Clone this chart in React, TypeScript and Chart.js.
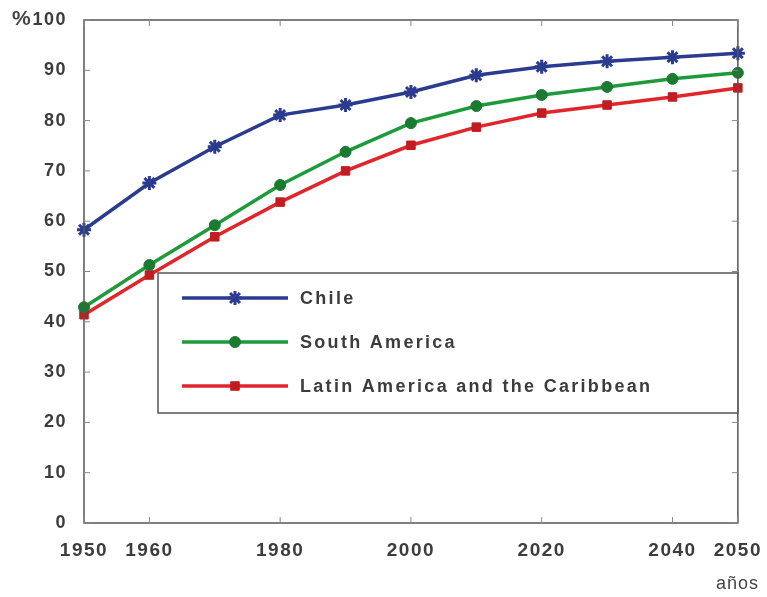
import React, { useEffect, useRef } from "react";
import { Chart, registerables } from "chart.js";

Chart.register(...registerables);

const years = [1950, 1960, 1970, 1980, 1990, 2000, 2010, 2020, 2030, 2040, 2050];
const chile = [58.3, 67.6, 74.8, 81.1, 83.1, 85.7, 89.0, 90.7, 91.8, 92.6, 93.4];
const southAmerica = [42.9, 51.3, 59.2, 67.2, 73.8, 79.5, 82.9, 85.1, 86.7, 88.3, 89.5];
const latinAmerica = [41.4, 49.3, 56.9, 63.8, 70.0, 75.1, 78.7, 81.5, 83.1, 84.7, 86.5];
const xTickLabels = [1950, 1960, 1980, 2000, 2020, 2040, 2050];
const seriesNames = ["Chile", "South America", "Latin America and the Caribbean"];
const yUnit = "%";
const xUnit = "años";

const FONT = "'Liberation Sans', Arial, sans-serif";

function drawMarker(ctx: CanvasRenderingContext2D, style: string, x: number, y: number, r: number, fill: string, stroke: string, lw: number) {
  ctx.save();
  ctx.fillStyle = fill;
  ctx.strokeStyle = stroke;
  ctx.lineWidth = lw;
  ctx.beginPath();
  if (style === "circle") {
    ctx.arc(x, y, r, 0, Math.PI * 2);
    ctx.fill();
    ctx.stroke();
  } else if (style === "rect") {
    const s = r * Math.SQRT1_2;
    ctx.rect(x - s, y - s, 2 * s, 2 * s);
    ctx.fill();
    ctx.stroke();
  } else {
    for (let k = 0; k < 4; k++) {
      const ang = (k * Math.PI) / 4;
      ctx.moveTo(x - Math.cos(ang) * r, y - Math.sin(ang) * r);
      ctx.lineTo(x + Math.cos(ang) * r, y + Math.sin(ang) * r);
    }
    ctx.stroke();
  }
  ctx.restore();
}

export default function App() {
  const ref = useRef<HTMLCanvasElement | null>(null);

  useEffect(() => {
    document.body.style.margin = "0";
    const canvas = ref.current;
    if (!canvas) return;

    const spacingPlugin = {
      id: "spacing",
      beforeDraw(chart: any) {
        (chart.ctx as any).letterSpacing = "1.5px";
      },
    };

    const framePlugin = {
      id: "frame",
      afterDatasetsDraw(chart: any) {
        const { ctx, chartArea: a, scales } = chart;
        const xs = scales.x;
        const ys = scales.y;
        ctx.save();
        ctx.strokeStyle = "#555";
        ctx.lineWidth = 1.5;
        ctx.strokeRect(a.left, a.top, a.right - a.left, a.bottom - a.top);
        ctx.lineWidth = 1;
        ctx.strokeStyle = "#888";
        xTickLabels.forEach((v) => {
          const px = xs.getPixelForValue(v);
          ctx.beginPath();
          ctx.moveTo(px, a.bottom);
          ctx.lineTo(px, a.bottom - 6);
          ctx.moveTo(px, a.top);
          ctx.lineTo(px, a.top + 6);
          ctx.stroke();
        });
        for (let v = 0; v <= 100; v += 10) {
          const py = ys.getPixelForValue(v);
          ctx.beginPath();
          ctx.moveTo(a.left, py);
          ctx.lineTo(a.left + 6, py);
          ctx.moveTo(a.right, py);
          ctx.lineTo(a.right - 6, py);
          ctx.stroke();
        }
        // legend box
        const lx = 158;
        const ly = 273;
        const lw = a.right - lx;
        const lh = 140;
        ctx.fillStyle = "#ffffff";
        ctx.fillRect(lx, ly, lw, lh);
        ctx.strokeStyle = "#555";
        ctx.lineWidth = 1.5;
        ctx.strokeRect(lx, ly, lw, lh);
        ctx.font = `bold 18px ${FONT}`;
        ctx.textBaseline = "middle";
        ctx.textAlign = "left";
        ctx.letterSpacing = "2.3px";
        chart.data.datasets.forEach((ds: any, i: number) => {
          const y = ly + 25 + i * 44;
          ctx.strokeStyle = ds.borderColor;
          ctx.lineWidth = 3.5;
          ctx.beginPath();
          ctx.moveTo(182, y);
          ctx.lineTo(288, y);
          ctx.stroke();
          drawMarker(ctx, ds.pointStyle, 235, y, ds.pointRadius, ds.backgroundColor, ds.pointBorderColor, ds.pointBorderWidth);
          ctx.fillStyle = "#3c3c3c";
          ctx.fillText(seriesNames[i], 300, y + 1);
        });
        ctx.fillStyle = "#444";
        ctx.font = `bold 21px ${FONT}`;
        ctx.letterSpacing = "0px";
        ctx.fillText(yUnit, 12, 19);
        ctx.font = `18px ${FONT}`;
        ctx.letterSpacing = "1px";
        ctx.fillText(xUnit, 716, 584);
        ctx.restore();
      },
    };

    const chart = new Chart(canvas, {
      type: "line",
      data: {
        datasets: [
          {
            label: seriesNames[0],
            data: years.map((x, i) => ({ x, y: chile[i] })),
            borderColor: "#2b3b8f",
            backgroundColor: "#2b3b8f",
            pointBorderColor: "#2b3b8f",
            borderWidth: 3.5,
            pointStyle: "star",
            pointRadius: 7,
            pointBorderWidth: 3,
            clip: false,
          } as any,
          {
            label: seriesNames[1],
            data: years.map((x, i) => ({ x, y: southAmerica[i] })),
            borderColor: "#1e9a3c",
            backgroundColor: "#1a7a30",
            pointBorderColor: "#1a7a30",
            borderWidth: 3.5,
            pointStyle: "circle",
            pointRadius: 5.5,
            pointBorderWidth: 1,
            clip: false,
          } as any,
          {
            label: seriesNames[2],
            data: years.map((x, i) => ({ x, y: latinAmerica[i] })),
            borderColor: "#e0252b",
            backgroundColor: "#c01c22",
            pointBorderColor: "#c01c22",
            borderWidth: 3.5,
            pointStyle: "rect",
            pointRadius: 6,
            pointBorderWidth: 1,
            clip: false,
          } as any,
        ],
      },
      options: {
        animation: false,
        responsive: false,
        devicePixelRatio: 1,
        layout: { padding: { top: 20, right: 29, left: 0, bottom: 0 } },
        plugins: {
          legend: { display: false },
          tooltip: { enabled: false },
        },
        scales: {
          x: {
            type: "linear",
            min: 1950,
            max: 2050,
            afterBuildTicks(scale: any) {
              scale.ticks = xTickLabels.map((v) => ({ value: v }));
            },
            afterFit(scale: any) {
              scale.height = 74;
            },
            grid: { display: false },
            border: { display: false },
            ticks: {
              autoSkip: false,
              maxRotation: 0,
              padding: 8,
              color: "#3c3c3c",
              font: { family: FONT, size: 19, weight: "bold" },
              callback: (v: any) => String(v),
            },
          },
          y: {
            type: "linear",
            min: 0,
            max: 100,
            afterFit(scale: any) {
              scale.width = 84;
            },
            grid: { display: false },
            border: { display: false },
            ticks: {
              stepSize: 10,
              padding: 9,
              color: "#3c3c3c",
              font: { family: FONT, size: 18, weight: "bold" },
            },
          },
        },
      },
      plugins: [spacingPlugin, framePlugin],
    });

    return () => chart.destroy();
  }, []);

  return (
    <div style={{ width: 767, height: 597, background: "#fff" }}>
      <canvas ref={ref} width={767} height={597} style={{ display: "block" }} />
    </div>
  );
}
